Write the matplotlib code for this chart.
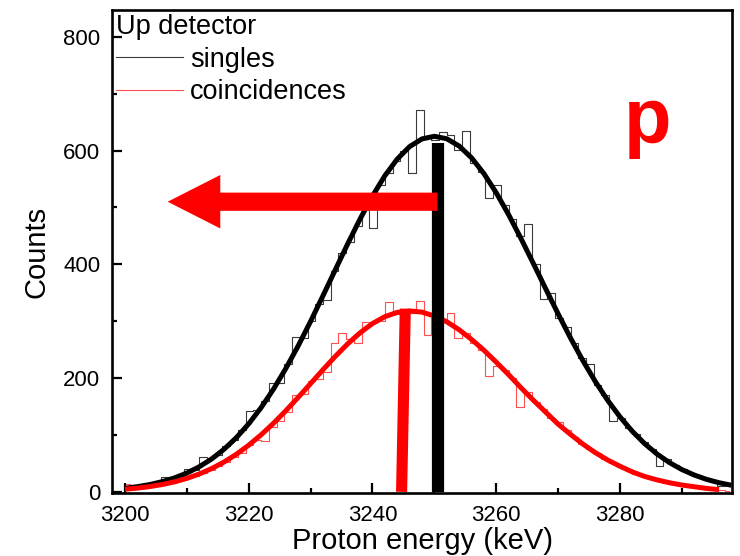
import numpy as np
import matplotlib
matplotlib.use("Agg")
import matplotlib.pyplot as plt
from matplotlib.patches import FancyArrow
from matplotlib.ticker import MultipleLocator

plt.rcParams["font.family"] = ["Liberation Sans", "DejaVu Sans"]

# ---- histogram data: counts per 1.25 keV bin, first bin starting at 3199.5 keV
bin_start = 3199.5
bin_width = 1.25

singles_counts = [
    8, 10, 9, 12, 16, 27, 22, 28, 40, 38,
    62, 60, 64, 80, 92, 108, 142, 144, 160, 192,
    192, 224, 273, 270, 300, 330, 338, 388, 420, 440,
    468, 495, 464, 540, 560, 582, 600, 561, 671, 625,
    619, 633, 628, 601, 635, 578, 562, 517, 540, 505,
    480, 450, 471, 400, 339, 350, 305, 290, 262, 236,
    225, 188, 170, 124, 130, 112, 102, 88, 76, 45,
    58, 47, 40, 34, 28, 24, 20, 10, 12,
]

coinc_counts = [
    14, 5, 7, 9, 11, 14, 16, 20, 24, 28,
    34, 38, 46, 52, 62, 68, 82, 92, 90, 114,
    124, 140, 171, 172, 194, 198, 210, 261, 280, 268,
    262, 298, 297, 300, 334, 312, 318, 314, 335, 276,
    306, 300, 315, 270, 280, 262, 250, 203, 222, 214,
    200, 150, 175, 158, 146, 130, 122, 108, 96, 84,
    76, 68, 57, 50, 44, 40, 31, 28, 24, 20,
    16, 14, 12, 9, 8, 6, 4, 3, 2,
]

# ---- fitted line shapes, sampled every 2 keV
singles_fit_energy = np.arange(3200, 3299, 2)
singles_fit = [
    6.3, 9.1, 12.8, 17.9, 24.5, 33.1, 44.1, 57.8, 74.8, 95.3,
    119.7, 148.1, 180.6, 217.0, 256.9, 299.8, 344.8, 390.6, 436.1, 479.8,
    520.1, 555.7, 585.0, 606.9, 620.4, 625.0, 620.7, 607.9, 587.3, 559.5,
    525.7, 487.2, 445.3, 401.4, 356.8, 312.9, 270.5, 230.7, 194.1, 161.0,
    131.8, 106.3, 84.6, 66.4, 51.4, 39.2, 29.6, 21.9, 16.1, 11.6,
]

coinc_fit_energy = np.arange(3200, 3297, 2)
coinc_fit = [
    4.6, 6.6, 9.3, 12.9, 17.6, 23.7, 31.4, 40.9, 52.4, 66.1,
    82.1, 100.3, 120.6, 142.7, 166.2, 190.4, 214.7, 238.3, 260.3, 279.7,
    295.9, 308.0, 315.5, 318.0, 316, 309, 299, 285, 268, 249,
    228, 206, 183, 161, 140, 119, 101, 84, 69, 56,
    45, 35, 27, 21, 16, 12, 9, 6, 4,
]

# ---- centroid markers (energy at base, energy at top, height)
singles_centroid = (3250.6, 3250.6, 613)
coinc_centroid = (3244.7, 3245.3, 322)

# ---- shift arrow (from, to, level)
shift_from = 3250.5
shift_to = 3206.9
shift_level = 510

xticks = [3200, 3220, 3240, 3260, 3280]
yticks = [0, 200, 400, 600, 800]

fig = plt.figure(figsize=(7.40, 5.56), dpi=100)
ax = fig.add_axes([112 / 740, 1 - 493 / 556, 620 / 740, 483 / 556])

centers_s = bin_start + bin_width * (np.arange(len(singles_counts)) + 0.5)
centers_c = bin_start + bin_width * (np.arange(len(coinc_counts)) + 0.5)

ax.step(centers_s, singles_counts, where="mid", color="#3a3a3a", lw=0.8,
        label="singles", zorder=2)
ax.step(centers_c, coinc_counts, where="mid", color="#ff5050", lw=0.8,
        label="coincidences", zorder=2)

ax.plot(singles_fit_energy, singles_fit, color="black", lw=3.6, zorder=3,
        solid_capstyle="butt")
ax.plot(coinc_fit_energy, coinc_fit, color="#ff0000", lw=3.6, zorder=3,
        solid_capstyle="butt")

ax.plot(singles_centroid[:2], [0, singles_centroid[2]], color="black",
        lw=8.8, solid_capstyle="butt", zorder=4)
ax.plot(coinc_centroid[:2], [0, coinc_centroid[2]], color="#ff0000",
        lw=8.0, solid_capstyle="butt", zorder=4)

arrow = FancyArrow(shift_from, shift_level, shift_to - shift_from, 0,
                   width=32, head_width=94, head_length=8.5,
                   length_includes_head=True, color="#ff0000", lw=0,
                   zorder=5)
ax.add_patch(arrow)

ax.text(3284.5, 614, "p", color="#ff0000", fontsize=56, fontweight="bold",
        ha="center", va="baseline")

ax.set_xlim(3197.9, 3298.1)
ax.set_ylim(-2, 847)
ax.set_xticks(xticks)
ax.set_yticks(yticks)
ax.xaxis.set_minor_locator(MultipleLocator(10))
ax.yaxis.set_minor_locator(MultipleLocator(100))
ax.tick_params(which="both", direction="in", top=False, right=False,
               width=1.6, labelsize=16)
ax.tick_params(which="major", length=7)
ax.tick_params(which="minor", length=3.5)
ax.tick_params(axis="x", pad=8.5)
ax.tick_params(axis="y", pad=8.5)
for s in ax.spines.values():
    s.set_linewidth(1.9)

ax.set_xlabel("Proton energy (keV)", fontsize=21, labelpad=1)
ax.set_ylabel("Counts", fontsize=21, labelpad=9)

leg = ax.legend(title="Up detector", loc="upper left",
                bbox_to_anchor=(0, 1), frameon=False, fontsize=19.5,
                title_fontsize=19.5, alignment="left", handlelength=2.45,
                handletextpad=0.28, borderpad=0.08, borderaxespad=0.08,
                labelspacing=0.24)

fig.savefig("out.png", dpi=100)
